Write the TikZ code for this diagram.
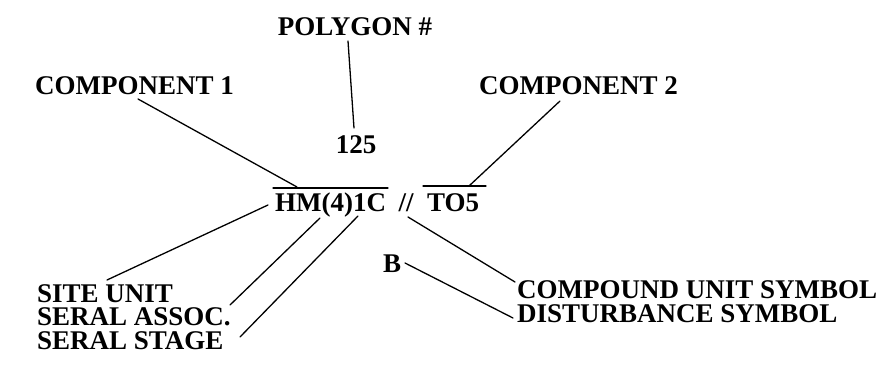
\documentclass[tikz,border=0pt]{standalone}
\usepackage{fontspec}
\setmainfont{Liberation Serif}
\begin{document}
\begin{tikzpicture}[x=1pt,y=-1pt,
  lbl/.style={inner sep=0pt,text height=18pt,text depth=1pt,font=\fontsize{27}{29}\selectfont\bfseries},
  lead/.style={line width=1.3pt,line cap=round}]
\useasboundingbox (0,0) rectangle (876,372);
% labels
\node[lbl,anchor=base] (poly) at (355,35) {POLYGON \#};
\node[lbl,anchor=base] (n125) at (356,153) {125};
\node[lbl,anchor=base west] (comp1) at (35,94) {COMPONENT 1};
\node[lbl,anchor=base west] (comp2) at (479,94) {COMPONENT 2};
\node[lbl,anchor=base west] (hm) at (275,211) {HM(4)1C};
\node[lbl,anchor=base] (slash) at (406,211) {//};
\node[lbl,anchor=base west] (to5) at (427,211) {TO5};
\node[lbl,anchor=base west] (bsym) at (383,272) {B};
\node[lbl,anchor=base west] (site) at (37,302) {SITE UNIT};
\node[lbl,anchor=base west] (assoc) at (37,325) {SERAL ASSOC.};
\node[lbl,anchor=base west] (stage) at (37,349) {SERAL STAGE};
\node[lbl,anchor=base west] (compound) at (517,298) {COMPOUND UNIT SYMBOL};
\node[lbl,anchor=base west] (dist) at (517,322) {DISTURBANCE SYMBOL};
% connector end points
\coordinate (polyA) at (348,41);
\coordinate (polyB) at (354,128);
\coordinate (c1A) at (138,99);
\coordinate (c1B) at (297,187);
\coordinate (c2A) at (560,101);
\coordinate (c2B) at (469,186);
\coordinate (ovHa) at (273,188);
\coordinate (ovHb) at (388,188);
\coordinate (ovTa) at (423,186);
\coordinate (ovTb) at (486,186);
\coordinate (suA) at (268,205);
\coordinate (suB) at (107,280);
\coordinate (saA) at (320,218);
\coordinate (saB) at (230,305);
\coordinate (ssA) at (358,216);
\coordinate (ssB) at (240,337);
\coordinate (cuA) at (408,217);
\coordinate (cuB) at (515,282);
\coordinate (dsA) at (405,263);
\coordinate (dsB) at (513,318);
% connectors
\draw[lead] (polyA) -- (polyB);
\draw[lead] (c1A) -- (c1B);
\draw[lead] (c2A) -- (c2B);
\draw[lead] (ovHa) -- (ovHb);
\draw[lead] (ovTa) -- (ovTb);
\draw[lead] (suA) -- (suB);
\draw[lead] (saA) -- (saB);
\draw[lead] (ssA) -- (ssB);
\draw[lead] (cuA) -- (cuB);
\draw[lead] (dsA) -- (dsB);
\end{tikzpicture}
\end{document}
